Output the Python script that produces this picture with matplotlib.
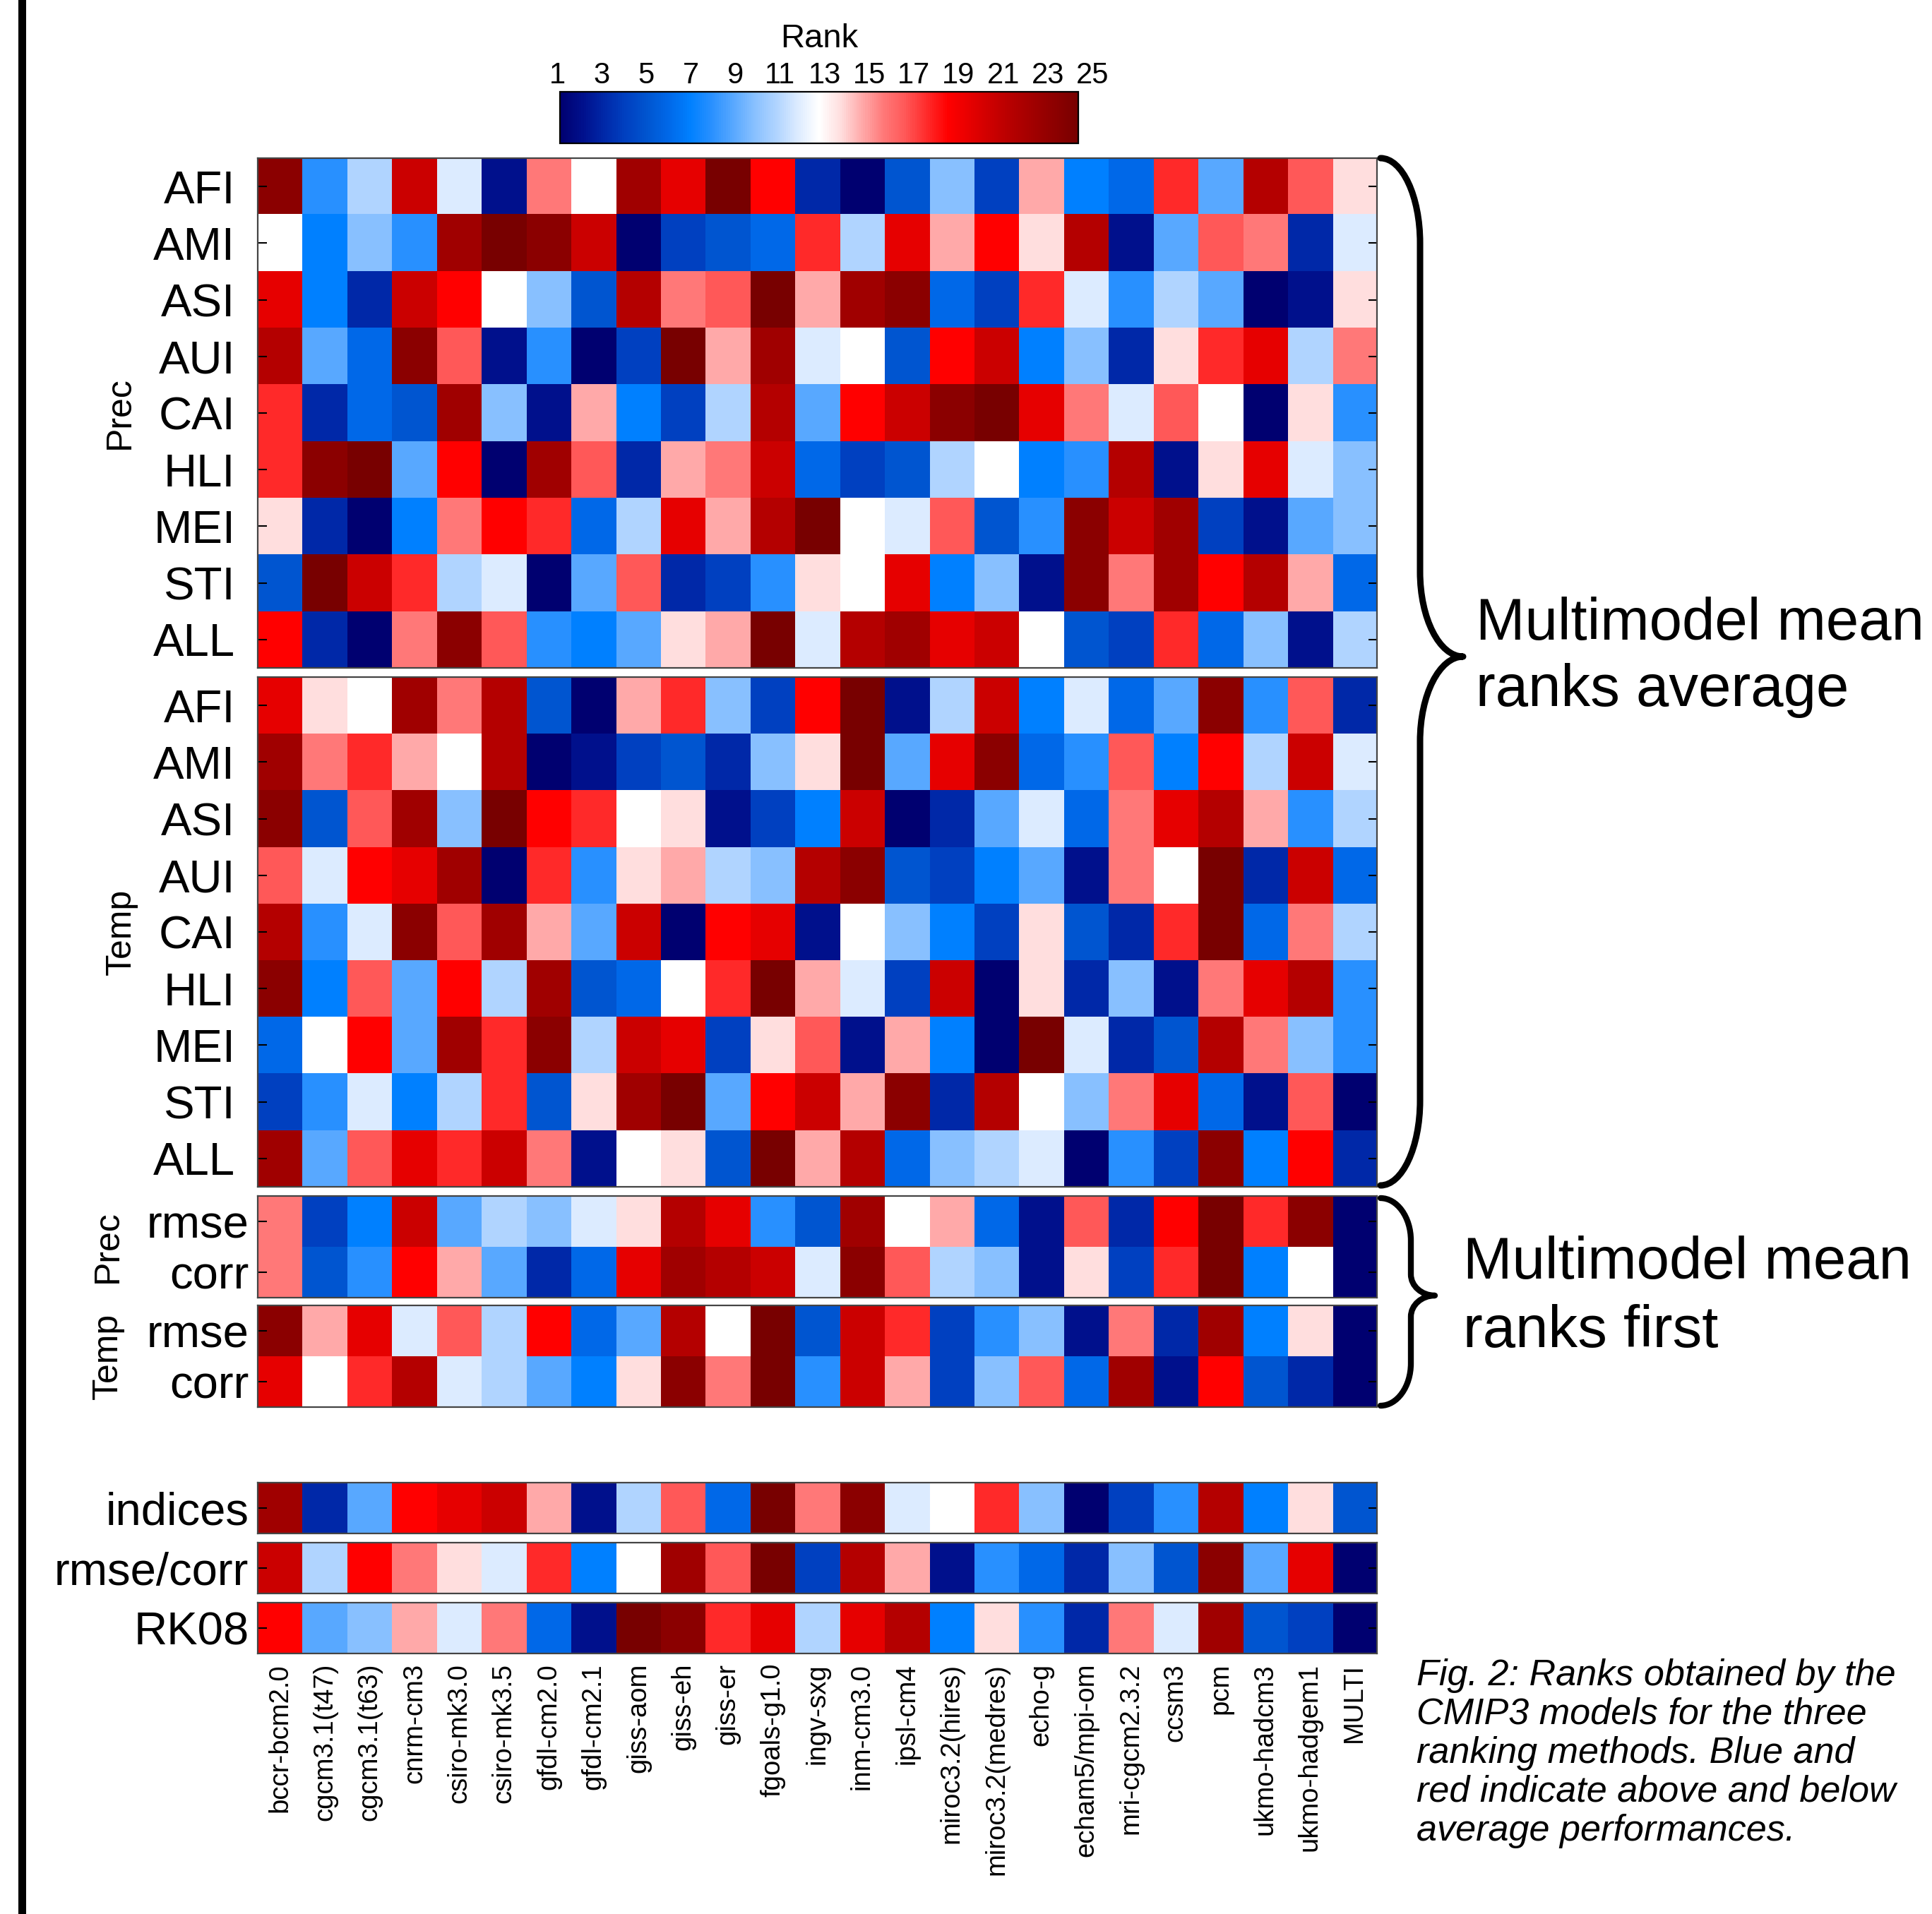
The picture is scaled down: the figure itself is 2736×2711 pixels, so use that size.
import numpy as np
import matplotlib
matplotlib.use("Agg")
import matplotlib.pyplot as plt
from matplotlib.colors import LinearSegmentedColormap, Normalize
from matplotlib.path import Path
from matplotlib.patches import PathPatch, Rectangle
import matplotlib.cm as cm

plt.rcParams['font.family'] = ['Liberation Sans', 'DejaVu Sans']

# ---------------- data ----------------
models = ["bccr-bcm2.0", "cgcm3.1(t47)", "cgcm3.1(t63)", "cnrm-cm3", "csiro-mk3.0",
          "csiro-mk3.5", "gfdl-cm2.0", "gfdl-cm2.1", "giss-aom", "giss-eh", "giss-er",
          "fgoals-g1.0", "ingv-sxg", "inm-cm3.0", "ipsl-cm4", "miroc3.2(hires)",
          "miroc3.2(medres)", "echo-g", "echam5/mpi-om", "mri-cgcm2.3.2", "ccsm3", "pcm",
          "ukmo-hadcm3", "ukmo-hadgem1", "MULTI"]

index_names = ["AFI", "AMI", "ASI", "AUI", "CAI", "HLI", "MEI", "STI", "ALL"]
metric_names = ["rmse", "corr"]
summary_names = ["indices", "rmse/corr", "RK08"]

prec_index_ranks = [
    [24, 8, 11, 21, 12, 2, 16, 13, 23, 20, 25, 19, 3, 1, 5, 10, 4, 15, 7, 6, 18, 9, 22, 17, 14],
    [13, 7, 10, 8, 23, 25, 24, 21, 1, 4, 5, 6, 18, 11, 20, 15, 19, 14, 22, 2, 9, 17, 16, 3, 12],
    [20, 7, 3, 21, 19, 13, 10, 5, 22, 16, 17, 25, 15, 23, 24, 6, 4, 18, 12, 8, 11, 9, 1, 2, 14],
    [22, 9, 6, 24, 17, 2, 8, 1, 4, 25, 15, 23, 12, 13, 5, 19, 21, 7, 10, 3, 14, 18, 20, 11, 16],
    [18, 3, 6, 5, 23, 10, 2, 15, 7, 4, 11, 22, 9, 19, 21, 24, 25, 20, 16, 12, 17, 13, 1, 14, 8],
    [18, 24, 25, 9, 19, 1, 23, 17, 3, 15, 16, 21, 6, 4, 5, 11, 13, 7, 8, 22, 2, 14, 20, 12, 10],
    [14, 3, 1, 7, 16, 19, 18, 6, 11, 20, 15, 22, 25, 13, 12, 17, 5, 8, 24, 21, 23, 4, 2, 9, 10],
    [5, 25, 21, 18, 11, 12, 1, 9, 17, 3, 4, 8, 14, 13, 20, 7, 10, 2, 24, 16, 23, 19, 22, 15, 6],
    [19, 3, 1, 16, 24, 17, 8, 7, 9, 14, 15, 25, 12, 22, 23, 20, 21, 13, 5, 4, 18, 6, 10, 2, 11],
]

temp_index_ranks = [
    [20, 14, 13, 23, 16, 22, 5, 1, 15, 18, 10, 4, 19, 25, 2, 11, 21, 7, 12, 6, 9, 24, 8, 17, 3],
    [23, 16, 18, 15, 13, 22, 1, 2, 4, 5, 3, 10, 14, 25, 9, 20, 24, 6, 8, 17, 7, 19, 11, 21, 12],
    [24, 5, 17, 23, 10, 25, 19, 18, 13, 14, 2, 4, 7, 21, 1, 3, 9, 12, 6, 16, 20, 22, 15, 8, 11],
    [17, 12, 19, 20, 23, 1, 18, 8, 14, 15, 11, 10, 22, 24, 5, 4, 7, 9, 2, 16, 13, 25, 3, 21, 6],
    [22, 8, 12, 24, 17, 23, 15, 9, 21, 1, 19, 20, 2, 13, 10, 7, 4, 14, 5, 3, 18, 25, 6, 16, 11],
    [24, 7, 17, 9, 19, 11, 23, 5, 6, 13, 18, 25, 15, 12, 4, 21, 1, 14, 3, 10, 2, 16, 20, 22, 8],
    [6, 13, 19, 9, 23, 18, 24, 11, 21, 20, 4, 14, 17, 2, 15, 7, 1, 25, 12, 3, 5, 22, 16, 10, 8],
    [4, 8, 12, 7, 11, 18, 5, 14, 23, 25, 9, 19, 21, 15, 24, 3, 22, 13, 10, 16, 20, 6, 2, 17, 1],
    [23, 9, 17, 20, 18, 21, 16, 2, 13, 14, 5, 25, 15, 22, 6, 10, 11, 12, 1, 8, 4, 24, 7, 19, 3],
]

prec_metric_ranks = [
    [16, 4, 7, 21, 9, 11, 10, 12, 14, 22, 20, 8, 5, 23, 13, 15, 6, 2, 17, 3, 19, 25, 18, 24, 1],
    [16, 5, 8, 19, 15, 9, 3, 6, 20, 23, 22, 21, 12, 24, 17, 11, 10, 2, 14, 4, 18, 25, 7, 13, 1],
]

temp_metric_ranks = [
    [24, 15, 20, 12, 17, 11, 19, 6, 9, 22, 13, 25, 5, 21, 18, 4, 8, 10, 2, 16, 3, 23, 7, 14, 1],
    [20, 13, 18, 22, 12, 11, 9, 7, 14, 24, 16, 25, 8, 21, 15, 4, 10, 17, 6, 23, 2, 19, 5, 3, 1],
]

indices_rank = [23, 3, 9, 19, 20, 21, 15, 2, 11, 17, 6, 25, 16, 24, 12, 13, 18, 10, 1, 4, 8, 22, 7, 14, 5]
rmse_corr_rank = [21, 11, 19, 16, 14, 12, 18, 7, 13, 23, 17, 25, 4, 22, 15, 2, 8, 6, 3, 10, 5, 24, 9, 20, 1]
rk08_rank = [19, 9, 10, 15, 12, 16, 6, 2, 25, 24, 18, 20, 11, 20, 22, 7, 14, 8, 3, 16, 12, 23, 5, 4, 1]

colorbar_ticks = list(range(1, 26, 2))

rank_colors = ['#000070', '#00108c', '#0028a8', '#0040c0', '#0055d0', '#0068e8', '#0080ff',
               '#2890ff', '#58a8ff', '#88c0ff', '#b0d4ff', '#dcebff', '#ffffff', '#ffdede',
               '#ffaaaa', '#ff7878', '#ff5858', '#ff2a2a', '#ff0000', '#e60000', '#cc0000',
               '#b40000', '#a00000', '#8c0000', '#780000']

# ---------------- figure ----------------
W, H = 2736, 2711
fig = plt.figure(figsize=(W / 100, H / 100), dpi=100)

cmap = LinearSegmentedColormap.from_list('rank', rank_colors, N=241)
norm = Normalize(vmin=1, vmax=25)


def add_ax(x0, y0, x1, y1):
    return fig.add_axes([x0 / W, 1 - y1 / H, (x1 - x0) / W, (y1 - y0) / H])


def ftext(x, y, s, **kw):
    return fig.text(x / W, 1 - y / H, s, **kw)


def heat(ax, data, ylabels, pad):
    ax.imshow(np.atleast_2d(np.array(data, dtype=float)), cmap=cmap, norm=norm,
              aspect='auto', interpolation='nearest')
    ax.set_yticks(range(len(ylabels)))
    ax.set_yticklabels(ylabels, fontsize=47)
    ax.set_xticks([])
    ax.tick_params(axis='y', direction='in', length=9, width=1.5,
                   left=True, right=True, pad=pad)
    for s in ax.spines.values():
        s.set_linewidth(1.6)
        s.set_color('#444444')


XL, XR = 365, 1950
ax_prec = add_ax(XL, 224, XR, 946)
ax_temp = add_ax(XL, 959, XR, 1681)
ax_pm = add_ax(XL, 1694, XR, 1838)
ax_tm = add_ax(XL, 1849, XR, 1993)
ax_ind = add_ax(XL, 2100, XR, 2172)
ax_rc = add_ax(XL, 2185, XR, 2257)
ax_rk = add_ax(XL, 2270, XR, 2342)

heat(ax_prec, prec_index_ranks, index_names, 23)
heat(ax_temp, temp_index_ranks, index_names, 23)
heat(ax_pm, prec_metric_ranks, metric_names, 9)
heat(ax_tm, temp_metric_ranks, metric_names, 9)
heat(ax_ind, [indices_rank], summary_names[:1], 9)
heat(ax_rc, [rmse_corr_rank], summary_names[1:2], 9)
heat(ax_rk, [rk08_rank], summary_names[2:], 9)

ax_rk.set_xticks(range(len(models)))
ax_rk.set_xticklabels(models, rotation=90, fontsize=27.5)
ax_rk.tick_params(axis='x', length=0, pad=10)

# group labels
ftext(170, 585, 'Prec', rotation=90, fontsize=36, ha='center', va='center')
ftext(172, 1320, 'Temp', rotation=90, fontsize=36, ha='center', va='center')
ftext(153, 1766, 'Prec', rotation=90, fontsize=36, ha='center', va='center')
ftext(153, 1921, 'Temp', rotation=90, fontsize=36, ha='center', va='center')

# colorbar
cax = add_ax(793, 130, 1527, 203)
sm = cm.ScalarMappable(norm=norm, cmap=cmap)
cb = fig.colorbar(sm, cax=cax, orientation='horizontal')
cb.set_ticks(colorbar_ticks)
cax.xaxis.set_ticks_position('top')
cax.set_xticklabels([])
cax.tick_params(axis='x', which='major', length=0)
cax.set_xticks([3, 13, 23], minor=True)
cax.tick_params(axis='x', which='minor', direction='in', length=10, width=1.5,
                top=True, bottom=True)
cb.outline.set_linewidth(1.6)
# tick labels are spread slightly wider than the bar in the original
lab_x0, lab_x1 = 789, 1547
for i, t in enumerate(colorbar_ticks):
    xx = lab_x0 + i * (lab_x1 - lab_x0) / (len(colorbar_ticks) - 1)
    ftext(xx, 107, str(t), fontsize=30, ha='center', va='center')
ftext(1160, 55, 'Rank', fontsize=34, ha='center', va='center')


# braces
def brace(x_end, x_mid, x_tip, y_top, y_bot, y_tip, r, r2, lw):
    k = 0.55
    pts = [
        (x_end, y_top),
        (x_end + k * (x_mid - x_end), y_top), (x_mid, y_top + r - k * r), (x_mid, y_top + r),
        (x_mid, y_tip - r2),
        (x_mid, y_tip - r2 + k * r2), (x_tip - k * (x_tip - x_mid), y_tip), (x_tip, y_tip),
        (x_tip - k * (x_tip - x_mid), y_tip), (x_mid, y_tip + r2 - k * r2), (x_mid, y_tip + r2),
        (x_mid, y_bot - r),
        (x_mid, y_bot - r + k * r), (x_end + k * (x_mid - x_end), y_bot), (x_end, y_bot),
    ]
    codes = [Path.MOVETO,
             Path.CURVE4, Path.CURVE4, Path.CURVE4,
             Path.LINETO,
             Path.CURVE4, Path.CURVE4, Path.CURVE4,
             Path.CURVE4, Path.CURVE4, Path.CURVE4,
             Path.LINETO,
             Path.CURVE4, Path.CURVE4, Path.CURVE4]
    verts = [(x / W, 1 - y / H) for x, y in pts]
    patch = PathPatch(Path(verts, codes), transform=fig.transFigure, fill=False,
                      lw=lw, edgecolor='black', capstyle='round', joinstyle='round')
    fig.patches.append(patch)


brace(1955, 2011, 2072, 224, 1679, 930, 120, 120, 6.5)
brace(1955, 1998, 2032, 1697, 1991, 1835, 60, 30, 6.0)

ftext(2090, 906, 'Multimodel mean', fontsize=60, ha='left', va='baseline')
ftext(2090, 1000, 'ranks average', fontsize=60, ha='left', va='baseline')
ftext(2072, 1811, 'Multimodel mean', fontsize=60, ha='left', va='baseline')
ftext(2072, 1908, 'ranks first', fontsize=60, ha='left', va='baseline')

caption_lines = ["Fig. 2: Ranks obtained by the",
                 "CMIP3 models for the three",
                 "ranking methods. Blue and",
                 "red indicate above and below",
                 "average performances."]
for i, line in enumerate(caption_lines):
    ftext(2006, 2387 + 55 * i, line, fontsize=37.5, style='italic', ha='left', va='baseline')

# left black bar
fig.patches.append(Rectangle((26 / W, 0), 11 / W, 1, transform=fig.transFigure,
                             facecolor='black', edgecolor='none'))

fig.savefig('out.png', dpi=100, facecolor='white')
